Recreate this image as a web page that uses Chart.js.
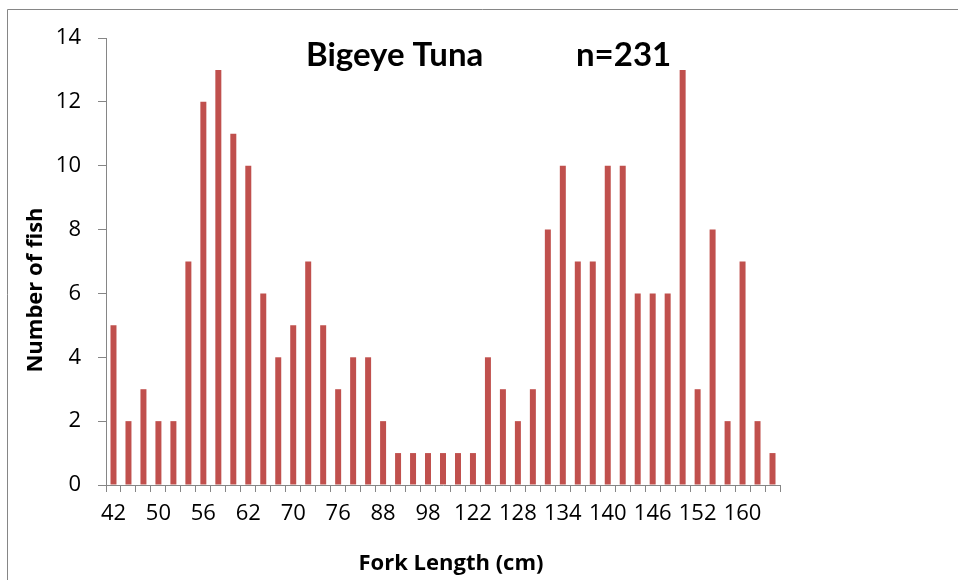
<!DOCTYPE html>
<html>
<head>
<meta charset="utf-8">
<script src="https://cdn.jsdelivr.net/npm/chart.js@4/dist/chart.umd.min.js"></script>
<style>
  body { margin: 0; background: #fff; }
  #wrap { position: relative; width: 958px; height: 580px; }
</style>
</head>
<body>
<div id="wrap"><canvas id="grafico"></canvas></div>
<script>
// comprimento furcal (cm) e numero de peixes por classe
const comprimentos = [42, 44, 48, 50, 52, 54, 56, 58, 60, 62, 64, 68, 70, 72, 74,
    76, 80, 84, 88, 90, 94, 98, 102, 110, 122, 124, 126, 128, 130, 132,
    134, 136, 138, 140, 142, 144, 146, 148, 150, 152, 154, 158, 160, 162, 164];
const numeroPeixes = [5, 2, 3, 2, 2, 7, 12, 13, 11, 10, 6, 4, 5, 7, 5,
    3, 4, 4, 2, 1, 1, 1, 1, 1, 1, 4, 3, 2, 3, 8,
    10, 7, 7, 10, 10, 6, 6, 6, 13, 3, 8, 2, 7, 2, 1];
const ticksY = [0, 2, 4, 6, 8, 10, 12, 14];
const tituloEspecie = 'Bigeye Tuna';
const tituloAmostra = 'n=231';
const tituloX = 'Fork Length (cm)';
const tituloY = 'Number of fish';

const corBarra = '#C0504D';
const corEixo = '#868686';
const fonte = 'Lato, "Open Sans", sans-serif';
const fonteEixo = '"Open Sans", Lato, sans-serif';

// moldura, titulo e nomes dos eixos desenhados direto no canvas
const molduraTitulo = {
    id: 'molduraTitulo',
    beforeDraw(chart) {
        const ctx = chart.ctx;
        ctx.save();
        ctx.strokeStyle = corEixo;
        ctx.lineWidth = 1;
        ctx.beginPath();
        ctx.moveTo(7.5, chart.height);
        ctx.lineTo(7.5, 9.5);
        ctx.lineTo(chart.width, 9.5);
        ctx.stroke();
        ctx.restore();
    },
    afterDraw(chart) {
        const ctx = chart.ctx;
        ctx.save();
        ctx.fillStyle = '#000';
        ctx.font = 'bold 33px ' + fonte;
        ctx.textBaseline = 'alphabetic';
        ctx.fillText(tituloEspecie, 306, 66);
        ctx.fillText(tituloAmostra, 576, 66);

        ctx.font = 'bold 22px ' + fonteEixo;
        ctx.textAlign = 'center';
        ctx.fillText(tituloX, 451, 570);

        ctx.translate(36, 290);
        ctx.rotate(-Math.PI / 2);
        ctx.textBaseline = 'middle';
        ctx.fillText(tituloY, 0, 0);
        ctx.restore();
    }
};

new Chart(document.getElementById('grafico'), {
    type: 'bar',
    data: {
        labels: comprimentos,
        datasets: [{
            data: numeroPeixes,
            backgroundColor: corBarra,
            borderWidth: 0,
            barPercentage: 0.4,
            categoryPercentage: 1
        }]
    },
    options: {
        responsive: true,
        maintainAspectRatio: false,
        animation: false,
        layout: { padding: { left: 0, top: 38, right: 178, bottom: 0 } },
        plugins: { legend: { display: false }, tooltip: { enabled: false } },
        scales: {
            x: {
                afterFit: s => { s.height = 95; },
                grid: { display: true, drawOnChartArea: false, offset: true, color: corEixo, tickLength: 7 },
                border: { color: corEixo, width: 1 },
                ticks: {
                    autoSkip: false,
                    maxRotation: 0,
                    padding: 9,
                    color: '#000',
                    font: { family: fonteEixo, size: 22 },
                    callback: (v, i) => i % 3 === 0 ? String(comprimentos[i]) : ''
                }
            },
            y: {
                min: 0,
                max: 14,
                afterFit: s => { s.width = 106; },
                afterBuildTicks: s => { s.ticks = ticksY.map(v => ({ value: v })); },
                grid: { display: true, drawOnChartArea: false, color: corEixo, tickLength: 8 },
                border: { color: corEixo, width: 1 },
                ticks: {
                    padding: 17,
                    color: '#000',
                    font: { family: fonteEixo, size: 22 }
                }
            }
        }
    },
    plugins: [molduraTitulo]
});
</script>
</body>
</html>
